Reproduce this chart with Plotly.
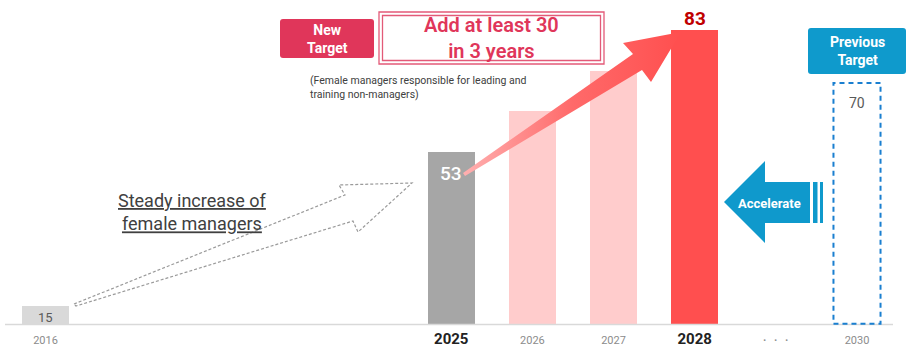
import plotly.graph_objects as go

# ---------------- data ----------------
years = ["2016", "2025", "2026", "2027", "2028"]
slots = [-5, 0, 1, 2, 3]                      # category positions on the x axis
values = [15, 53, 63, 73, 83]
value_labels = ["15", "53", "", "", "83"]
bar_colors = ["#d9d9d9", "#a6a6a6", "#ffcccc", "#ffcccc", "#ff4f4f"]

prev_year = "2030"
prev_slot = 5
prev_value = 70

tick_slots = [-5, 0, 1, 2, 3, 4, 5]
tick_labels = ["2016", "2025", "2026", "2027", "2028", "・・・", "2030"]
bold_ticks = {"2025", "2028"}

# ---------------- geometry helpers ----------------
W, H = 910, 354
B = 29
PH = H - B                      # plot area height in px
YMIN, YMAX = 10.4, 90.4
C0, DX = 451.25, 81.15          # px centre of slot 0, px per slot
XMIN, XMAX = -C0 / DX, (W - C0) / DX
BW = 0.58


def X(px):
    return px / W


def Y(py):
    return 1 - py / PH


def dx(px):
    return (px - C0) / DX


def dy(py):
    return YMAX - py * (YMAX - YMIN) / PH


def rrect(x0, y0, x1, y1, r):
    pts = [
        f"M {X(x0 + r)},{Y(y0)}", f"L {X(x1 - r)},{Y(y0)}", f"Q {X(x1)},{Y(y0)} {X(x1)},{Y(y0 + r)}",
        f"L {X(x1)},{Y(y1 - r)}", f"Q {X(x1)},{Y(y1)} {X(x1 - r)},{Y(y1)}",
        f"L {X(x0 + r)},{Y(y1)}", f"Q {X(x0)},{Y(y1)} {X(x0)},{Y(y1 - r)}",
        f"L {X(x0)},{Y(y0 + r)}", f"Q {X(x0)},{Y(y0)} {X(x0 + r)},{Y(y0)}", "Z",
    ]
    return " ".join(pts)


def poly(points):
    s = "M " + " L ".join(f"{X(a)},{Y(b)}" for a, b in points) + " Z"
    return s


FONT = "Roboto"

fig = go.Figure()

# bars
fig.add_trace(go.Bar(
    x=slots, y=values, width=BW, marker=dict(color=bar_colors, line=dict(width=0)),
    hoverinfo="skip",
))

# big red arrow (gradient) 53 -> 83
arrow_px = [(463, 173), (633, 54), (623, 43), (681, 32), (651, 82), (642, 70), (465, 176)]
fig.add_trace(go.Scatter(
    x=[dx(a) for a, b in arrow_px], y=[dy(b) for a, b in arrow_px],
    mode="lines", line=dict(width=0), fill="toself",
    fillgradient=dict(type="horizontal", colorscale=[[0, "#ffb0b0"], [0.5, "#ff6a6a"], [1, "#ff4f4f"]]),
    hoverinfo="skip", cliponaxis=False,
))

shapes = []
# baseline
shapes.append(dict(type="line", xref="paper", yref="paper", x0=X(5), x1=X(893), y0=Y(324.5), y1=Y(324.5),
                   line=dict(color="#d9d9d9", width=1.5)))
# previous target dashed box
shapes.append(dict(type="rect", xref="x", yref="y", x0=prev_slot - BW / 2, x1=prev_slot + BW / 2,
                   y0=YMIN + 0.3, y1=prev_value, line=dict(color="#1a7fd0", width=2, dash="5px,4px"),
                   fillcolor="rgba(0,0,0,0)"))
# dashed grey outline arrow
grey_arrow = [(74, 304), (345, 195), (339, 185), (412, 183), (358, 232), (353, 221), (76, 306)]
shapes.append(dict(type="path", xref="paper", yref="paper", path=poly(grey_arrow),
                   line=dict(color="#9a9a9a", width=1.2, dash="3px,2px")))
# New Target box
shapes.append(dict(type="path", xref="paper", yref="paper", path=rrect(280, 19, 374, 58, 3),
                   fillcolor="#e0365a", line=dict(width=0)))
# Add at least 30 box (double border)
shapes.append(dict(type="rect", xref="paper", yref="paper", x0=X(379), x1=X(604), y0=Y(12), y1=Y(64),
                   fillcolor="white", line=dict(color="#e35a78", width=1.3)))
shapes.append(dict(type="rect", xref="paper", yref="paper", x0=X(382.5), x1=X(600.5), y0=Y(15.5), y1=Y(60.5),
                   fillcolor="rgba(0,0,0,0)", line=dict(color="#e35a78", width=1.3)))
# Previous Target box
shapes.append(dict(type="path", xref="paper", yref="paper", path=rrect(808, 28, 906, 74, 3),
                   fillcolor="#0f9acc", line=dict(width=0)))
# Accelerate arrow
acc = [(724, 202), (765, 161), (765, 182), (810, 182), (810, 223), (765, 223), (765, 243)]
shapes.append(dict(type="path", xref="paper", yref="paper", path=poly(acc),
                   fillcolor="#0f99cc", line=dict(width=0)))
shapes.append(dict(type="rect", xref="paper", yref="paper", x0=X(813), x1=X(817.5), y0=Y(182), y1=Y(223),
                   fillcolor="#0f99cc", line=dict(width=0)))
shapes.append(dict(type="rect", xref="paper", yref="paper", x0=X(820), x1=X(823), y0=Y(182), y1=Y(223),
                   fillcolor="#0f99cc", line=dict(width=0)))

ann = []
# value labels
for s, v, lab in zip(slots, values, value_labels):
    if not lab:
        continue
    if lab == "15":
        ann.append(dict(x=s, y=v, xref="x", yref="y", text=lab, showarrow=False, yanchor="top", yshift=-2,
                        xanchor="center", font=dict(family=FONT, size=13, color="#595959")))
    elif lab == "53":
        ann.append(dict(x=s, y=v, xref="x", yref="y", text=lab, showarrow=False, yanchor="top", yshift=-8,
                        xanchor="center", font=dict(family=FONT, size=19, color="white", weight=500)))
    else:
        ann.append(dict(x=s, y=v, xref="x", yref="y", text=f"<b>{lab}</b>", showarrow=False, yanchor="bottom",
                        xanchor="center", yshift=-2, font=dict(family=FONT, size=19, color="#c00000")))
ann.append(dict(x=prev_slot, y=prev_value, xref="x", yref="y", text=str(prev_value), showarrow=False,
                xanchor="center", yanchor="top", yshift=-10, font=dict(family=FONT, size=14, color="#595959")))


def label(px, py, text, size, color, bold=False, weight=None, **kw):
    t = f"<b>{text}</b>" if bold else text
    f = dict(family=FONT, size=size, color=color)
    if weight:
        f["weight"] = weight
    d = dict(x=X(px), y=Y(py), xref="paper", yref="paper", text=t, showarrow=False,
             xanchor="center", yanchor="middle", align="center", font=f)
    d.update(kw)
    ann.append(d)


label(327, 38.5, "New<br>Target", 14, "white", bold=True)
label(492, 38, "Add at least 30<br>in 3 years", 20, "#e0365a", weight=600)
label(308, 72, "(Female managers responsible for leading and<br>training non-managers)", 10.5, "#404040",
      xanchor="left", yanchor="top", align="left")
label(857, 51, "Previous<br>Target", 14, "white", bold=True)
label(769, 203, "Accelerate", 13, "white", bold=True)
label(192, 212, "<u>Steady increase of</u><br><u>female managers</u>", 18, "#404040")

# tick labels
ticktext = []
for t in tick_labels:
    if t in bold_ticks:
        ticktext.append(f"<b><span style='font-size:15px;color:#222222'>{t}</span></b>")
    else:
        ticktext.append(f"<span style='font-size:11px;color:#8c8c8c'>{t}</span>")

fig.update_layout(
    width=W, height=H, margin=dict(l=0, r=0, t=0, b=B),
    paper_bgcolor="white", plot_bgcolor="white", showlegend=False,
    xaxis=dict(range=[XMIN, XMAX], tickvals=tick_slots, ticktext=ticktext, showgrid=False, zeroline=False,
               showline=False, ticks="", tickfont=dict(family=FONT, size=12, color="#8c8c8c"),
               ticklabelstandoff=6, fixedrange=True),
    yaxis=dict(range=[YMIN, YMAX], visible=False, showgrid=False, zeroline=False, fixedrange=True),
    shapes=shapes, annotations=ann, bargap=0,
)

fig.write_html("out.html")
